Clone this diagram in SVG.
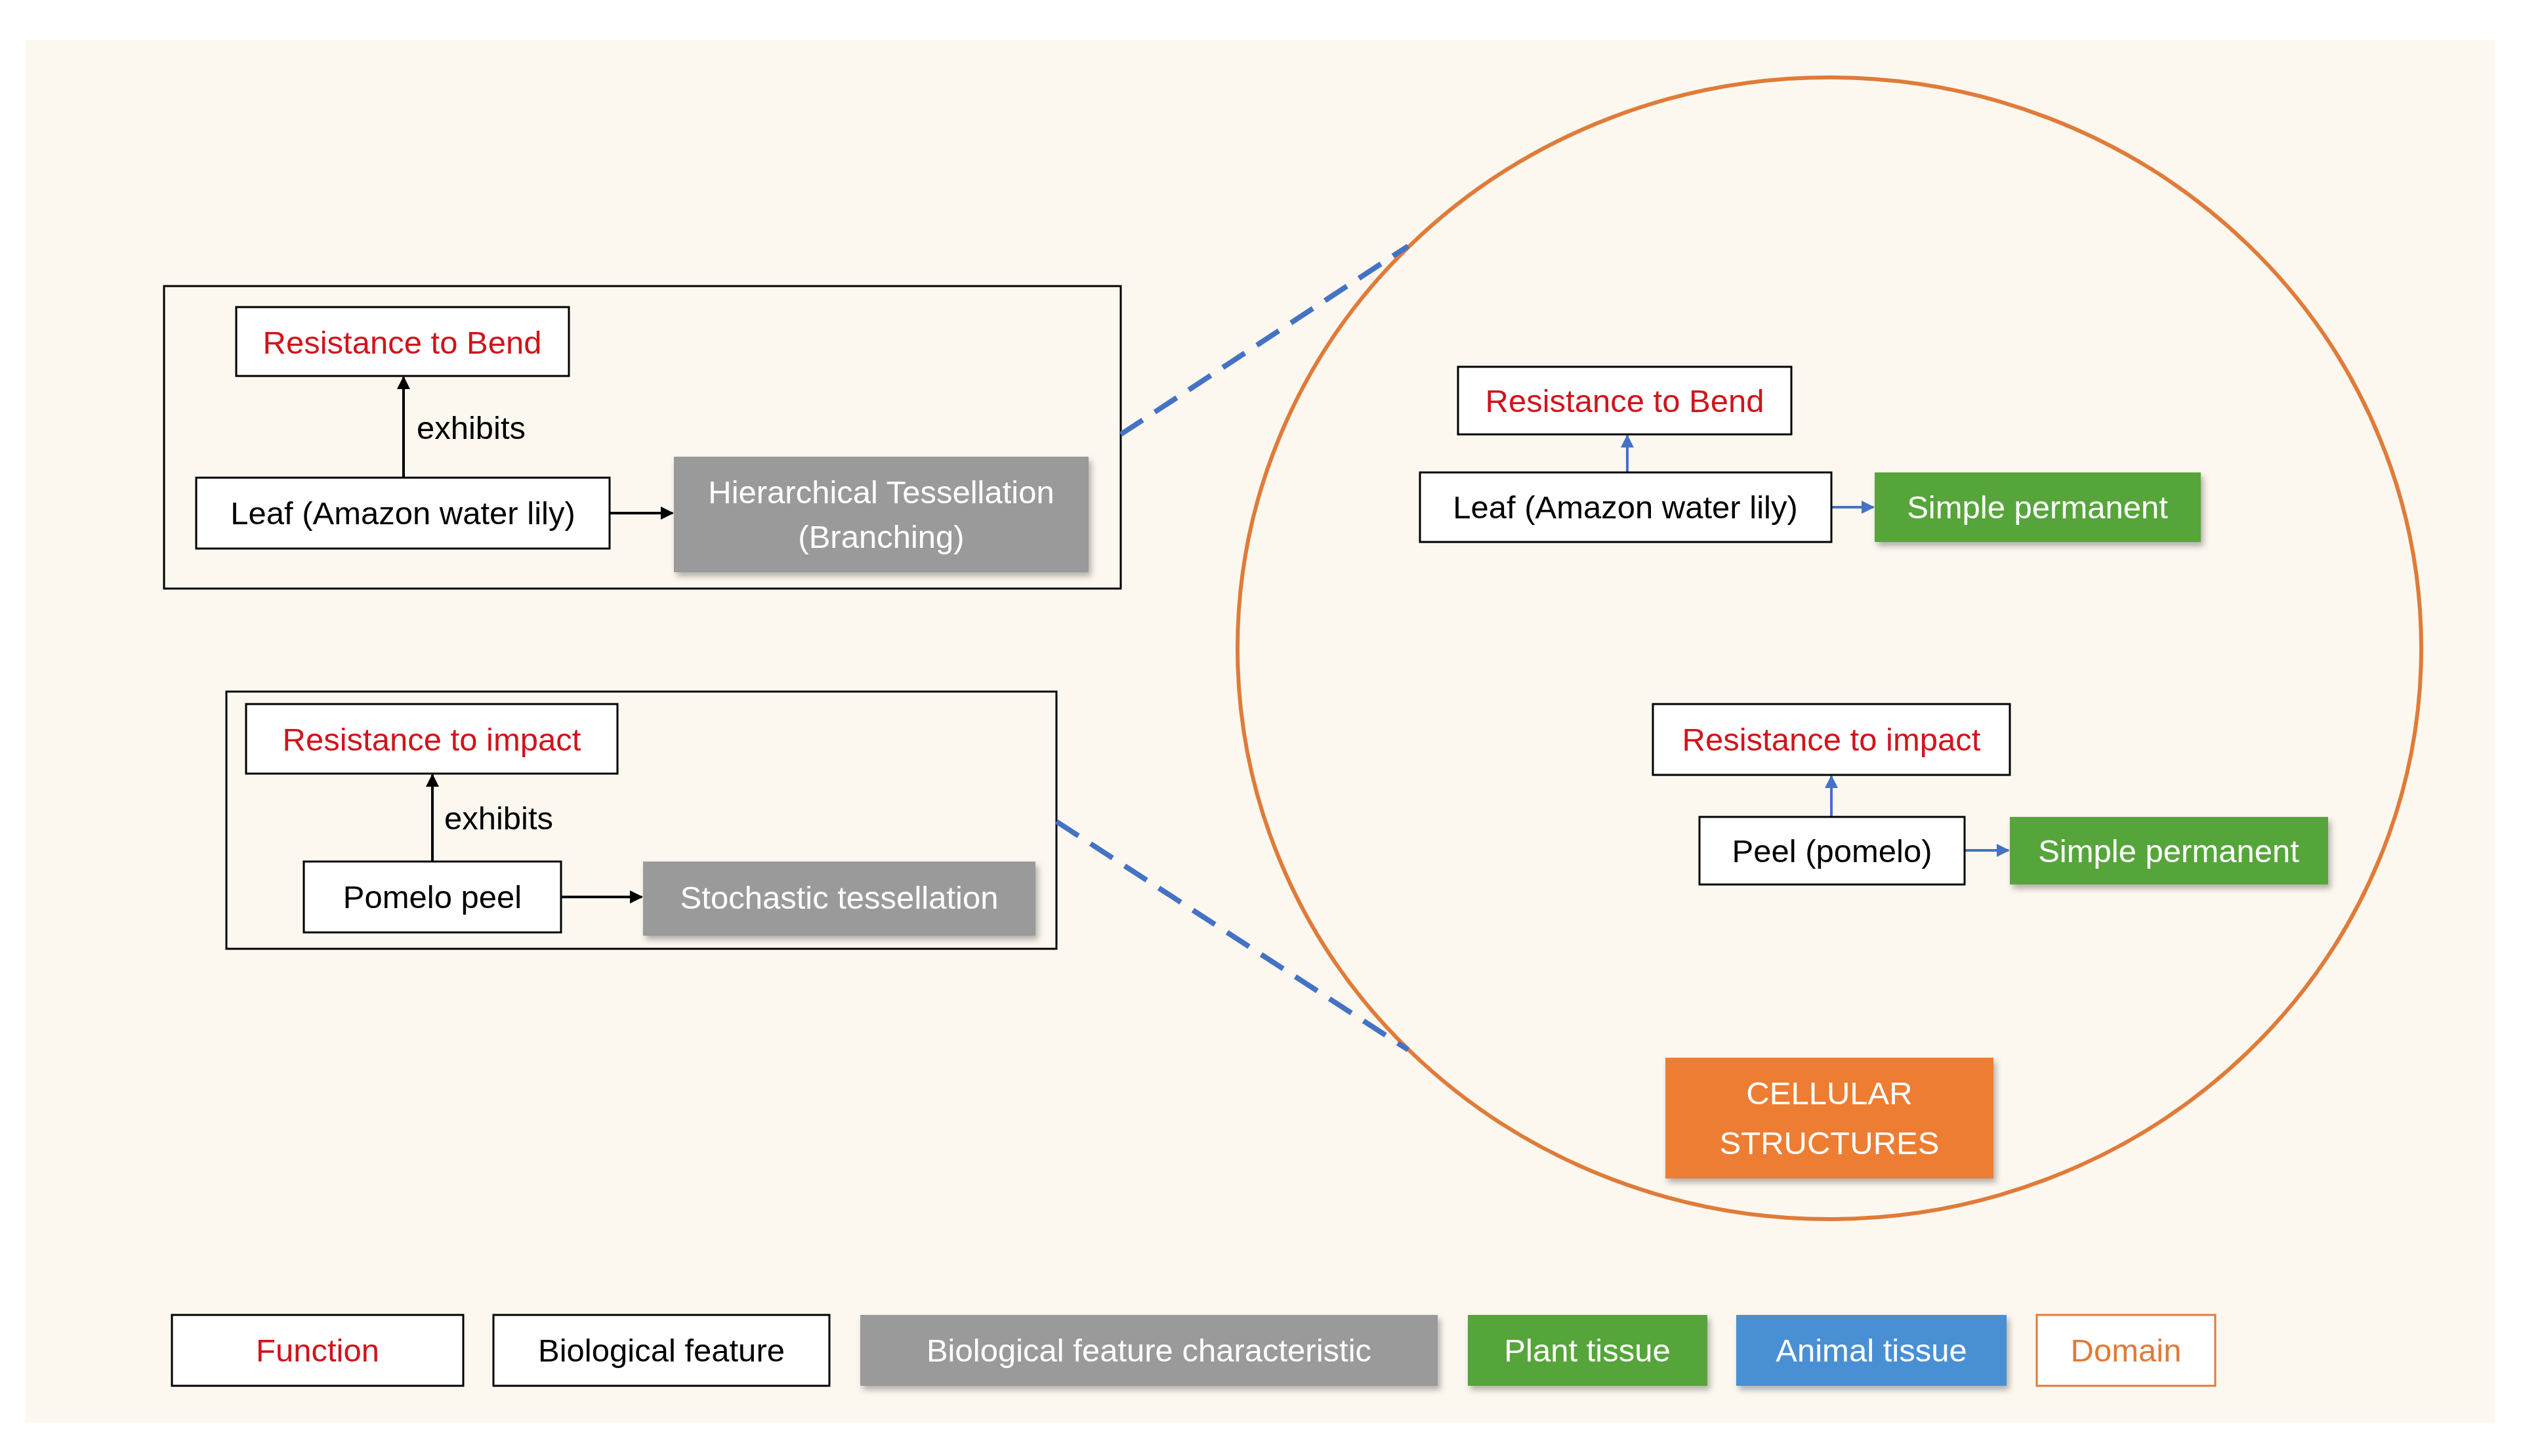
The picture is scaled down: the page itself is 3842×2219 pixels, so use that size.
<svg xmlns="http://www.w3.org/2000/svg" width="3842" height="2219" viewBox="0 0 3842 2219">
<defs>
<style>
text{font-family:"Liberation Sans",Arial,sans-serif;font-size:49px;text-anchor:middle;dominant-baseline:central}
.w{fill:#fff;stroke:#000;stroke-width:3}
.r{fill:#d0141c}
.k{fill:#000}
.wt{fill:#fff}
.g{fill:#9a9a9a}
.gr{fill:#57a53a}
.bl{fill:#4a8fd4}
.sh{filter:url(#s)}
</style>
<filter id="s" x="-10%" y="-10%" width="125%" height="135%"><feDropShadow dx="4" dy="6" stdDeviation="5" flood-color="#000" flood-opacity="0.3"/></filter>
<marker id="ak" viewBox="0 0 10 10" refX="9" refY="5" markerWidth="5" markerHeight="5" orient="auto"><path d="M0,0L10,5L0,10z" fill="#000"/></marker>
<marker id="ab" viewBox="0 0 10 10" refX="9" refY="5" markerWidth="5" markerHeight="5" orient="auto"><path d="M0,0L10,5L0,10z" fill="#4472c4"/></marker>
</defs>
<rect width="3842" height="2219" fill="#fff"/>
<rect x="39" y="61" width="3764" height="2107" fill="#fcf8ef"/>
<g id="frames" fill="none" stroke="#000" stroke-width="3">
<rect x="250" y="436" width="1458" height="461"/>
<rect x="345" y="1054" width="1265" height="392"/>
</g>
<g id="domain-circle"><ellipse cx="2788" cy="988" rx="902" ry="870" fill="none" stroke="#e07b39" stroke-width="6"/></g>
<g id="connectors" fill="none" stroke-width="4">
<path d="M615,728V575" stroke="#000" marker-end="url(#ak)"/>
<path d="M929,782H1025" stroke="#000" marker-end="url(#ak)"/>
<path d="M659,1313V1181" stroke="#000" marker-end="url(#ak)"/>
<path d="M855,1367H978" stroke="#000" marker-end="url(#ak)"/>
<path d="M2480,720V664" stroke="#4472c4" marker-end="url(#ab)"/>
<path d="M2791,773H2855" stroke="#4472c4" marker-end="url(#ab)"/>
<path d="M2791,1245V1183" stroke="#4472c4" marker-end="url(#ab)"/>
<path d="M2994,1296H3061" stroke="#4472c4" marker-end="url(#ab)"/>
<path d="M1708,662L2146,375M1610,1252L2146,1600" stroke="#4472c4" stroke-width="8" stroke-dasharray="40,22"/>
<text x="718" y="652" class="k" font-size="42">exhibits</text>
<text x="760" y="1247" class="k" font-size="42">exhibits</text>
</g>
<g id="n1"><rect class="w" x="360" y="468" width="507" height="105"/><text x="613" y="522" class="r">Resistance to Bend</text></g>
<g id="n2"><rect class="w" x="299" y="728" width="630" height="108"/><text x="614" y="782" class="k">Leaf (Amazon water lily)</text></g>
<g id="n3"><rect class="sh g" x="1027" y="696" width="632" height="176"/><text x="1343" y="750" class="wt">Hierarchical Tessellation</text><text x="1343" y="818" class="wt">(Branching)</text></g>
<g id="n4"><rect class="w" x="375" y="1073" width="566" height="106"/><text x="658" y="1127" class="r">Resistance to impact</text></g>
<g id="n5"><rect class="w" x="463" y="1313" width="392" height="108"/><text x="659" y="1367" class="k">Pomelo peel</text></g>
<g id="n6"><rect class="sh g" x="980" y="1313" width="598" height="113"/><text x="1279" y="1368" class="wt">Stochastic tessellation</text></g>
<g id="n7"><rect class="w" x="2222" y="559" width="508" height="103"/><text x="2476" y="611" class="r">Resistance to Bend</text></g>
<g id="n8"><rect class="w" x="2164" y="720" width="627" height="106"/><text x="2477" y="773" class="k">Leaf (Amazon water lily)</text></g>
<g id="n9"><rect class="sh gr" x="2857" y="720" width="497" height="106"/><text x="3105" y="773" class="wt">Simple permanent</text></g>
<g id="n10"><rect class="w" x="2519" y="1073" width="544" height="108"/><text x="2791" y="1127" class="r">Resistance to impact</text></g>
<g id="n11"><rect class="w" x="2590" y="1245" width="404" height="103"/><text x="2792" y="1297" class="k">Peel (pomelo)</text></g>
<g id="n12"><rect class="sh gr" x="3063" y="1245" width="485" height="103"/><text x="3305" y="1297" class="wt">Simple permanent</text></g>
<g id="n13"><rect class="sh" x="2538" y="1612" width="500" height="184" fill="#ed7d31"/><text x="2788" y="1666" class="wt" font-size="54">CELLULAR</text><text x="2788" y="1742" class="wt" font-size="54">STRUCTURES</text></g>
<g id="legend">
<rect class="w" x="262" y="2004" width="444" height="108"/><text x="484" y="2058" class="r" font-size="56">Function</text>
<rect class="w" x="752" y="2004" width="512" height="108"/><text x="1008" y="2058" class="k" font-size="56">Biological feature</text>
<rect class="sh g" x="1311" y="2004" width="880" height="108"/><text x="1751" y="2058" class="wt" font-size="56">Biological feature characteristic</text>
<rect class="sh gr" x="2237" y="2004" width="365" height="108"/><text x="2419" y="2058" class="wt" font-size="56">Plant tissue</text>
<rect class="sh bl" x="2646" y="2004" width="412" height="108"/><text x="2852" y="2058" class="wt" font-size="56">Animal tissue</text>
<rect x="3104" y="2004" width="272" height="108" fill="#fff" stroke="#e07b39" stroke-width="3"/><text x="3240" y="2058" fill="#e07b39" font-size="56">Domain</text>
</g>
</svg>
